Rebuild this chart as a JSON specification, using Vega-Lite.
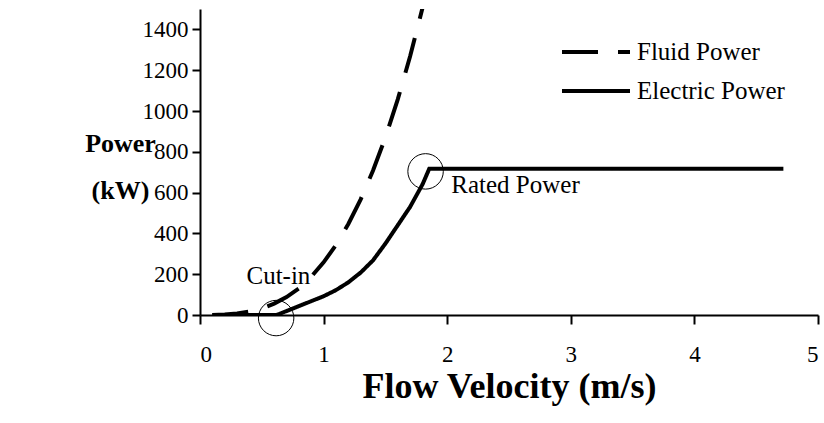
{
  "$schema": "https://vega.github.io/schema/vega-lite/v6.json",
  "width": 618,
  "height": 306,
  "autosize": {"type": "none"},
  "padding": {"left": 200, "top": 9, "right": 6, "bottom": 108},
  "background": "white",
  "config": {
    "view": {"stroke": null},
    "font": "Liberation Serif",
    "axis": {"grid": false, "domainColor": "black", "tickColor": "black", "domainWidth": 2, "tickWidth": 2, "labelColor": "black", "titleColor": "black", "labelFont": "Liberation Serif", "titleFont": "Liberation Serif"}
  },
  "layer": [
    {
      "data": {"values": [
        {"series": "Fluid Power", "v": 0.1, "p": 0.26},
        {"series": "Fluid Power", "v": 0.2, "p": 2.1},
        {"series": "Fluid Power", "v": 0.3, "p": 7.0},
        {"series": "Fluid Power", "v": 0.4, "p": 16.5},
        {"series": "Fluid Power", "v": 0.5, "p": 32},
        {"series": "Fluid Power", "v": 0.6, "p": 56},
        {"series": "Fluid Power", "v": 0.7, "p": 88},
        {"series": "Fluid Power", "v": 0.8, "p": 130},
        {"series": "Fluid Power", "v": 0.9, "p": 188},
        {"series": "Fluid Power", "v": 1.0, "p": 258},
        {"series": "Fluid Power", "v": 1.1, "p": 343},
        {"series": "Fluid Power", "v": 1.2, "p": 446},
        {"series": "Fluid Power", "v": 1.3, "p": 567},
        {"series": "Fluid Power", "v": 1.4, "p": 708},
        {"series": "Fluid Power", "v": 1.5, "p": 871},
        {"series": "Fluid Power", "v": 1.6, "p": 1057},
        {"series": "Fluid Power", "v": 1.7, "p": 1268},
        {"series": "Fluid Power", "v": 1.8, "p": 1505},
        {"series": "Electric Power", "v": 0.1, "p": 0},
        {"series": "Electric Power", "v": 0.62, "p": 0},
        {"series": "Electric Power", "v": 1.0, "p": 92},
        {"series": "Electric Power", "v": 1.1, "p": 122},
        {"series": "Electric Power", "v": 1.2, "p": 160},
        {"series": "Electric Power", "v": 1.3, "p": 208},
        {"series": "Electric Power", "v": 1.4, "p": 268},
        {"series": "Electric Power", "v": 1.5, "p": 350},
        {"series": "Electric Power", "v": 1.6, "p": 440},
        {"series": "Electric Power", "v": 1.7, "p": 530},
        {"series": "Electric Power", "v": 1.8, "p": 640},
        {"series": "Electric Power", "v": 1.855, "p": 717},
        {"series": "Electric Power", "v": 4.72, "p": 717}
      ]},
      "mark": {"type": "line", "color": "black", "strokeWidth": 4, "clip": true, "strokeCap": "butt", "strokeJoin": "miter"},
      "encoding": {
        "x": {"field": "v", "type": "quantitative", "scale": {"domain": [0, 5], "nice": false},
          "axis": {"values": [0, 1, 2, 3, 4, 5], "format": "d", "tickSize": 9, "labelFontSize": 23, "labelPadding": 19, "title": "Flow Velocity (m/s)", "titleFontSize": 36, "titleFontWeight": "bold", "titleY": 71, "titleBaseline": "middle"}},
        "y": {"field": "p", "type": "quantitative", "scale": {"domain": [0, 1500], "nice": false},
          "axis": {"values": [0, 200, 400, 600, 800, 1000, 1200, 1400], "format": "d", "tickSize": 8, "labelFontSize": 23, "labelPadding": 4, "title": ["Power", "(kW)"], "titleFontSize": 26, "titleFontWeight": "bold", "titleAngle": 0, "titleAlign": "center", "titleBaseline": "middle", "titleX": -80, "titleY": 134, "titleLineHeight": 47}},
        "strokeDash": {"field": "series", "type": "nominal",
          "scale": {"domain": ["Fluid Power", "Electric Power"], "range": [[36, 20], [1, 0]]},
          "legend": {"title": null, "orient": "none", "legendX": 377, "legendY": 24, "symbolType": "M-2,0H2", "symbolSize": 1156, "symbolStrokeWidth": 4, "symbolStrokeColor": "black", "symbolFillColor": "transparent", "labelFontSize": 25, "labelColor": "black", "labelOffset": 22, "rowPadding": 7,
            "encode": {"symbols": {"update": {"strokeDash": {"signal": "datum.value === 'Fluid Power' ? [24, 20] : [1, 0]"}}}}}
        }
      }
    },
    {
      "data": {"values": [
        {"v": 0.616, "p": -15},
        {"v": 1.825, "p": 704}
      ]},
      "mark": {"type": "point", "shape": "circle", "filled": false, "size": 1257, "stroke": "black", "strokeWidth": 1, "opacity": 1},
      "encoding": {
        "x": {"field": "v", "type": "quantitative"},
        "y": {"field": "p", "type": "quantitative"}
      }
    },
    {
      "data": {"values": [
        {"v": 0.376, "p": 192, "label": "Cut-in"},
        {"v": 2.033, "p": 635, "label": "Rated Power"}
      ]},
      "mark": {"type": "text", "fontSize": 25, "font": "Liberation Serif", "color": "black", "baseline": "middle", "align": "left"},
      "encoding": {
        "x": {"field": "v", "type": "quantitative"},
        "y": {"field": "p", "type": "quantitative"},
        "text": {"field": "label"}
      }
    }
  ]
}
